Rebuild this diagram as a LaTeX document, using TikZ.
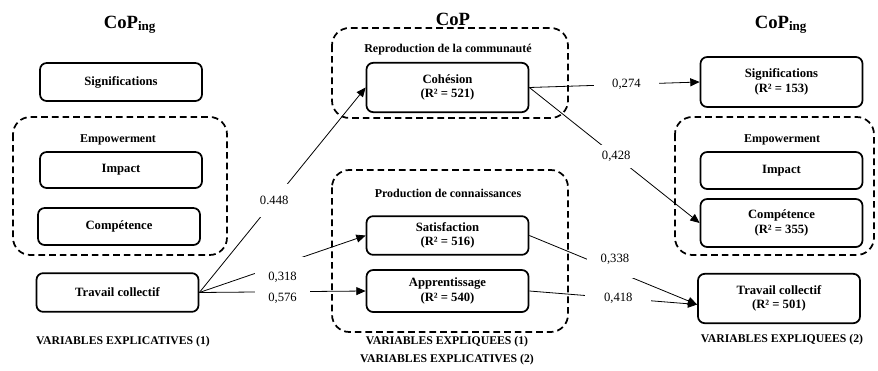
\documentclass[tikz,border=0pt]{standalone}
\usepackage{fontspec}
\setmainfont{Liberation Serif}
\usetikzlibrary{arrows.meta}

\tikzset{every picture/.style={line width=0.75pt}}
\tikzset{
  varbox/.style={draw, rounded corners=5pt, line width=1.3pt, align=center,
    minimum width=121.5pt, inner sep=1pt, font=\fontsize{9.5}{11}\selectfont\bfseries},
  grpbox/.style={line width=1.3pt, dash pattern={on 5pt off 3pt}, rounded corners=13pt},
  grplbl/.style={font=\fontsize{9}{10}\selectfont\bfseries},
  title/.style={anchor=base, font=\fontsize{14}{16}\selectfont\bfseries},
  foot/.style={font=\fontsize{8.8}{10}\selectfont\bfseries},
  val/.style={fill=white, inner xsep=10pt, inner ysep=5pt, font=\fontsize{9.5}{11}\selectfont},
  arr/.style={-{Triangle[length=7pt,width=6pt]}, line width=0.6pt}
}

\begin{document}
\begin{tikzpicture}[x=0.75pt,y=0.75pt,yscale=-1,xscale=1]
	\useasboundingbox (0,0) rectangle (878,371);

	% Titles
	\node[title] (tl) at (130,28) {CoP\textsubscript{ing}};
	\node[title] (tc) at (453,25) {CoP};
	\node[title] (tr) at (781,28) {CoP\textsubscript{ing}};

	%Group boxes
	\draw[grpbox] (13,117) rectangle (227,255);
	\draw[grpbox] (332,28) rectangle (568,118);
	\draw[grpbox] (332,170) rectangle (568,332);
	\draw[grpbox] (675,117) rectangle (874,255);

	% Group labels
	\node[grplbl] (empL) at (118,140) {Empowerment};
	\node[grplbl] (repro) at (448,50) {Reproduction de la communauté};
	\node[grplbl] (prod) at (448,193) {Production de connaissances};
	\node[grplbl] (empR) at (782,140) {Empowerment};

	% Left column
	\node[varbox, minimum height=28.5pt] (sigL) at (121,82) {Significations};
	\node[varbox, minimum height=27pt] (impL) at (121,170) {Impact};
	\node[varbox, minimum height=27.75pt] (comL) at (119,226.5) {Compétence};
	\node[varbox, minimum height=29pt] (trvL) at (117.5,292.5) {Travail collectif};

	% Center column
	\node[varbox, minimum height=37pt] (coh) at (447.5,87.5) {Cohésion\\(R² = 521)};
	\node[varbox, minimum height=29pt] (sat) at (447.5,235.5) {Satisfaction\\(R² = 516)};
	\node[varbox, minimum height=31.5pt] (app) at (447.5,291) {Apprentissage\\(R² = 540)};

	% Right column
	\node[varbox, minimum height=37.5pt] (sigR) at (781.5,82) {Significations\\(R² = 153)};
	\node[varbox, minimum height=27.75pt] (impR) at (781.5,170.5) {Impact};
	\node[varbox, minimum height=36pt] (comR) at (781.5,223) {Compétence\\(R² = 355)};
	\node[varbox, minimum height=37pt] (trvR) at (779,298.5) {Travail collectif\\(R² = 501)};

	% Paths
	\draw[arr] (trvL.east) -- node[val, pos=0.45, inner ysep=9pt, inner xsep=4pt] {0.448} (coh.west);
	\draw[arr] (trvL.east) -- node[val, pos=0.5, yshift=-10pt, inner ysep=11pt] {0,318} (sat.west);
	\draw[arr] (trvL.east) -- node[val, pos=0.5, yshift=-5pt, inner ysep=7pt] {0,576} (app.west);
	\draw[arr] (coh.east) -- node[val, pos=0.57, inner xsep=14pt] {0,274} (sigR.west);
	\draw[arr] (coh.east) -- node[val, pos=0.51, inner xsep=6pt] {0,428} (comR.west);
	\draw[arr] (sat.east) -- node[val, pos=0.51, yshift=8.5pt, inner ysep=10pt] {0,338} ([yshift=4.5pt]trvR.west);
	\draw[arr] (app.east) -- node[val, pos=0.53, inner xsep=14pt] {0,418} ([yshift=4.5pt]trvR.west);

	% Footers
	\node[foot] (fl) at (123,342) {VARIABLES EXPLICATIVES (1)};
	\node[foot] (fc1) at (447,342) {VARIABLES EXPLIQUEES (1)};
	\node[foot] (fc2) at (447,360) {VARIABLES EXPLICATIVES (2)};
	\node[foot] (fr) at (782,340) {VARIABLES EXPLIQUEES (2)};

\end{tikzpicture}
\end{document}
